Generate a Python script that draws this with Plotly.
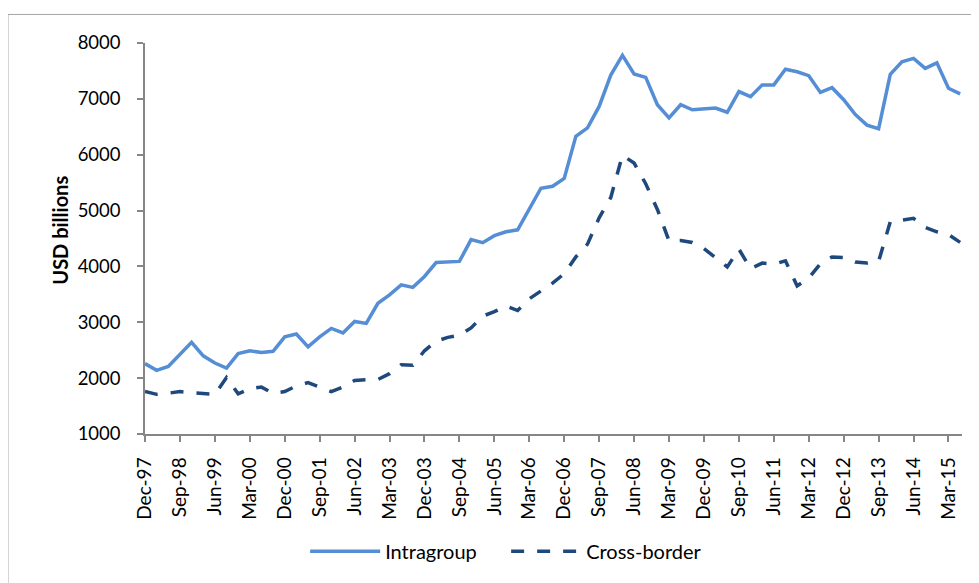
import plotly.graph_objects as go

# Quarterly values, Dec-97 .. Jun-15 (USD billions)
intragroup = [
    2260, 2140, 2210, 2420, 2640, 2400, 2270, 2180, 2440, 2490,
    2460, 2480, 2740, 2790, 2560, 2740, 2890, 2810, 3015, 2980,
    3340, 3490, 3670, 3625, 3820, 4070, 4080, 4090, 4480, 4425,
    4550, 4620, 4655, 5030, 5400, 5435, 5575, 6330, 6480, 6865,
    7425, 7780, 7445, 7385, 6895, 6660, 6895, 6805, 6820, 6835,
    6760, 7130, 7040, 7250, 7250, 7530, 7485, 7415, 7115, 7200,
    6985, 6720, 6530, 6465, 7440, 7665, 7725, 7545, 7645, 7190, 7090,
]
cross_border = [
    1760, 1710, 1730, 1760, 1740, 1720, 1710, 2010, 1720, 1810,
    1840, 1730, 1760, 1860, 1920, 1840, 1760, 1840, 1960, 1970,
    1975, 2080, 2240, 2230, 2490, 2660, 2730, 2770, 2900, 3110,
    3190, 3290, 3210, 3420, 3560, 3700, 3870, 4170, 4400, 4870,
    5235, 5990, 5850, 5480, 5020, 4460, 4465, 4430, 4320, 4160,
    3990, 4310, 3960, 4060, 4040, 4100, 3650, 3790, 4050, 4170,
    4160, 4080, 4060, 4090, 4800, 4830, 4860, 4700, 4620, 4570, 4430,
]
tick_labels = [
    "Dec-97", "Sep-98", "Jun-99", "Mar-00", "Dec-00", "Sep-01", "Jun-02", "Mar-03",
    "Dec-03", "Sep-04", "Jun-05", "Mar-06", "Dec-06", "Sep-07", "Jun-08", "Mar-09",
    "Dec-09", "Sep-10", "Jun-11", "Mar-12", "Dec-12", "Sep-13", "Jun-14", "Mar-15",
]

# quarter names for the category axis
month_names = ["Mar", "Jun", "Sep", "Dec"]
quarters = []
year, q = 1997, 3
for _ in range(len(intragroup)):
    quarters.append(f"{month_names[q]}-{year % 100:02d}")
    q += 1
    if q == 4:
        q = 0
        year += 1

FONT = "Lato"
AXIS_GREY = "#868686"

fig = go.Figure()
fig.add_trace(go.Scatter(
    x=quarters, y=intragroup, mode="lines", name="Intragroup",
    line=dict(color="#558ED5", width=3.5),
))
fig.add_trace(go.Scatter(
    x=quarters, y=cross_border, mode="lines", name="Cross-border",
    line=dict(color="#1F497D", width=3.5, dash="13px,13px"),
))

# the page body adds an 8px offset, so the figure is 8px smaller than the window
fig.update_layout(
    width=971, height=575,
    margin=dict(l=137, r=17, t=35, b=141),
    paper_bgcolor="white", plot_bgcolor="white",
    font=dict(family=FONT, size=18.5, color="black"),
    showlegend=True,
    legend=dict(
        orientation="h", x=0.196, y=-0.3, xanchor="left", yanchor="middle",
        font=dict(size=20), itemwidth=70, entrywidth=116, entrywidthmode="pixels",
        bgcolor="rgba(0,0,0,0)",
    ),
    xaxis=dict(
        type="category", range=[0, 70.16],
        tickmode="array", tickvals=tick_labels, ticktext=tick_labels,
        tickangle=-90, ticks="outside", ticklen=6, tickcolor=AXIS_GREY, tickwidth=1.5,
        ticklabelstandoff=8, tickfont=dict(size=19),
        showline=True, linecolor=AXIS_GREY, linewidth=1.5,
        showgrid=False, zeroline=False,
    ),
    yaxis=dict(
        range=[1000, 8000], dtick=1000, tick0=1000,
        ticks="outside", ticklen=6, tickcolor=AXIS_GREY, tickwidth=1.5,
        ticklabelstandoff=13,
        showline=True, linecolor=AXIS_GREY, linewidth=1.5,
        showgrid=False, zeroline=False,
    ),
    annotations=[dict(
        text="<b>USD billions</b>", textangle=-90, showarrow=False,
        xref="paper", yref="paper", x=-0.104, y=0.52,
        xanchor="center", yanchor="middle", font=dict(size=20),
    )],
    shapes=[
        # chart frame (top and left edges visible)
        dict(type="line", xref="paper", yref="paper", x0=-0.1677, x1=1.05, y0=1.073, y1=1.073,
             line=dict(color="#a6a6a6", width=1)),
        dict(type="line", xref="paper", yref="paper", x0=-0.1677, x1=-0.1677, y0=1.073, y1=-0.4,
             line=dict(color="#a6a6a6", width=1)),
    ],
)

fig.write_html("out.html")
